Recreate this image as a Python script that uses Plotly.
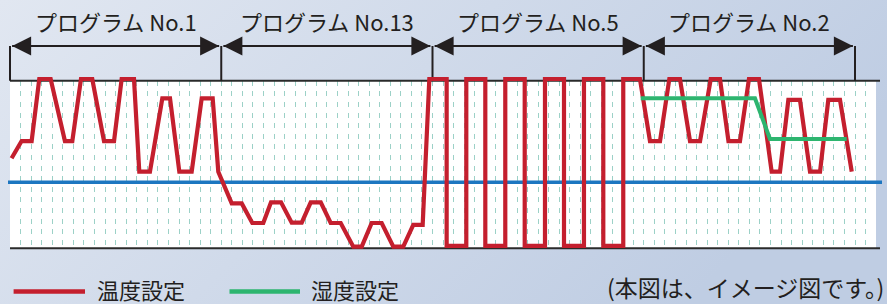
import base64
import plotly.graph_objects as go

# ---------------- data ----------------
PROGRAM_LABELS = ["プログラム No.1", "プログラム No.13", "プログラム No.5", "プログラム No.2"]
PROGRAM_BOUNDS = [0, 20, 40, 60, 80]          # time units (one grid step = 1)

TEMP_X = [0.15, 1.1, 2.05, 2.77, 3.85, 5.2, 5.9, 6.72, 7.79, 8.9, 9.85, 10.57, 11.74,
          12.24, 13.25, 14.42, 15.15, 16.03, 17.2, 18.15, 19.19, 19.72,
          20.99, 21.94, 22.94, 23.98, 24.71, 25.66, 26.67, 27.62, 28.47, 29.42, 30.36,
          31.31, 32.5, 33.3, 34.24, 35.19, 36.29, 37.23, 38.18, 39.07, 39.7,
          41.34, 41.34, 43.2, 43.2, 45.0, 45.0, 46.89, 46.89, 48.73, 48.73, 50.65, 50.65,
          52.45, 52.45, 54.34, 54.34, 56.17, 56.17, 58.06, 58.06, 59.64,
          60.59, 61.54, 62.42, 63.43, 64.38, 65.33, 66.34, 67.22, 68.02, 69.11, 69.96,
          70.91, 72.11, 72.9, 73.69, 74.79, 75.74, 76.69, 77.47, 78.58, 79.69]
TEMP_Y = [53.7, 64, 64, 101, 101, 64, 64, 101, 101, 64, 64, 101, 101,
          45.7, 45.7, 89.5, 89.5, 45.7, 45.7, 89.5, 89.5, 45.7,
          26.8, 26.8, 15.1, 15.1, 27.4, 27.4, 15.3, 15.3, 27.4, 27.4, 15.1,
          15.1, 1.0, 1.0, 15.1, 15.1, 1.0, 1.0, 14, 14, 101,
          101, 1.5, 1.5, 101, 101, 1.5, 1.5, 101, 101, 1.5, 1.5, 101,
          101, 1.5, 1.5, 101, 101, 1.5, 1.5, 101, 101,
          64, 64, 101, 101, 64, 64, 101, 101, 64, 64, 101,
          101, 45.7, 45.7, 88.5, 88.5, 45.7, 45.7, 88.5, 88.5, 45.7]
HUMID_X = [59.71, 70.53, 71.95, 79.21]
HUMID_Y = [89.5, 89.5, 65.2, 65.2]
BASE_LEVEL = 39.4
LEGEND_LABELS = ["温度設定", "湿度設定"]
NOTE_TEXT = "(本図は、イメージ図です。)"

# ---------------- geometry / style ----------------
W, H = 887, 304
PX0, PXU = 10.0, 10.5625        # pixel of t=0, pixels per time unit
PY0, PY100 = 248.3, 80.7        # pixel rows of value 0 and 100
GRID_END = 82                   # white chart area ends here (time units)
FONT = "Noto Sans CJK JP"
INK = "#231f20"
RED, GREEN, BLUE = "#c41f2e", "#2db56f", "#1c76c0"
GRID = "rgba(95,180,165,0.62)"


def ux(px):
    return (px - PX0) / PXU


def vy(py):
    return (PY0 - py) * 100.0 / (PY0 - PY100)


ARROW_Y = vy(46)
LABEL_Y = vy(21)
LINE_END = ux(880)

fig = go.Figure()

# data subplot (x2/y2) covers the full figure
fig.add_trace(go.Scatter(x=TEMP_X, y=TEMP_Y, mode="lines", xaxis="x2", yaxis="y2",
                         line=dict(color=RED, width=4.2), showlegend=False, hoverinfo="skip"))
fig.add_trace(go.Scatter(x=HUMID_X, y=HUMID_Y, mode="lines", xaxis="x2", yaxis="y2",
                         line=dict(color=GREEN, width=4), showlegend=False, hoverinfo="skip"))

# program arrows
gap = 0.2
for a, b in zip(PROGRAM_BOUNDS[:-1], PROGRAM_BOUNDS[1:]):
    fig.add_trace(go.Scatter(x=[a + gap, b - gap], y=[ARROW_Y, ARROW_Y], mode="lines+markers",
                             xaxis="x2", yaxis="y2",
                             line=dict(color=INK, width=2),
                             marker=dict(symbol=["arrow-left", "arrow-right"], size=19,
                                         color=INK, line=dict(width=0)),
                             showlegend=False, hoverinfo="skip"))

shapes = []
# white chart area
shapes.append(dict(type="rect", xref="x", yref="y", x0=0, x1=GRID_END, y0=0, y1=100,
                   fillcolor="white", line=dict(width=0), layer="below"))
# frame lines top/bottom
for yv in (0, 100):
    shapes.append(dict(type="line", xref="x2", yref="y2", x0=0, x1=LINE_END, y0=yv, y1=yv,
                       line=dict(color="#2a2a2a", width=2), layer="below"))
# program boundary ticks
for b in PROGRAM_BOUNDS:
    shapes.append(dict(type="line", xref="x2", yref="y2", x0=b, x1=b, y0=100, y1=ARROW_Y,
                       line=dict(color=INK, width=2), layer="below"))
# blue base line
shapes.append(dict(type="line", xref="x2", yref="y2", x0=ux(8), x1=ux(882),
                   y0=BASE_LEVEL, y1=BASE_LEVEL, line=dict(color=BLUE, width=3.5), layer="below"))

# legend (manual)
LEG_LINE_Y = 1 - 291.5 / H
LEG_TEXT_Y = 1 - 288.5 / H
NOTE_Y = 1 - 287 / H
for (x0, x1), col in zip([(13.6, 85), (229.5, 300)], [RED, GREEN]):
    shapes.append(dict(type="line", xref="paper", yref="paper", x0=x0 / W, x1=x1 / W,
                       y0=LEG_LINE_Y, y1=LEG_LINE_Y, line=dict(color=col, width=4.5)))

annotations = []
for lab, a, b in zip(PROGRAM_LABELS, PROGRAM_BOUNDS[:-1], PROGRAM_BOUNDS[1:]):
    annotations.append(dict(x=(a + b) / 2, y=LABEL_Y, xref="x2", yref="y2", text=lab,
                            showarrow=False, xanchor="center", yanchor="middle",
                            font=dict(family=FONT, size=22, color=INK)))
for tx, lab in zip([95, 309], LEGEND_LABELS):
    annotations.append(dict(x=tx / W, y=LEG_TEXT_Y, xref="paper", yref="paper", text=lab,
                            showarrow=False, xanchor="left", yanchor="middle",
                            font=dict(family=FONT, size=22, color=INK)))
annotations.append(dict(x=886 / W, y=NOTE_Y, xref="paper", yref="paper", text=NOTE_TEXT,
                        showarrow=False, xanchor="right", yanchor="middle",
                        font=dict(family=FONT, size=23, color=INK)))

# background gradient
svg = ('<svg xmlns="http://www.w3.org/2000/svg" width="887" height="304" preserveAspectRatio="none">'
       '<defs><linearGradient id="g" x1="0" y1="0" x2="1" y2="0.35">'
       '<stop offset="0" stop-color="#e1e7f1"/><stop offset="1" stop-color="#bfcde3"/>'
       '</linearGradient></defs><rect width="887" height="304" fill="url(#g)"/></svg>')
src = "data:image/svg+xml;base64," + base64.b64encode(svg.encode()).decode()

hidden = dict(showline=False, showticklabels=False, zeroline=False, showgrid=False, ticks="")

fig.update_layout(
    width=W, height=H, autosize=False,
    margin=dict(l=0, r=0, t=0, b=0, pad=0),
    paper_bgcolor="#d3dcea", plot_bgcolor="rgba(0,0,0,0)",
    images=[dict(source=src, xref="paper", yref="paper", x=0, y=1, sizex=1, sizey=1,
                 xanchor="left", yanchor="top", sizing="stretch", layer="below")],
    xaxis=dict(domain=[PX0 / W, (PX0 + GRID_END * PXU) / W], range=[0, GRID_END], anchor="y",
               showline=False, showticklabels=False, zeroline=False, ticks="",
               showgrid=True, dtick=1, tick0=0, gridcolor=GRID, gridwidth=1.4,
               griddash="5px,5.6px"),
    yaxis=dict(domain=[1 - PY0 / H, 1 - PY100 / H], range=[0, 100], anchor="x", **hidden),
    xaxis2=dict(domain=[0, 1], range=[ux(0), ux(W)], anchor="y2", **hidden),
    yaxis2=dict(domain=[0, 1], range=[vy(H), vy(0)], anchor="x2", **hidden),
    shapes=shapes,
    annotations=annotations,
    showlegend=False,
)

fig.write_html("out.html", config={"displayModeBar": False},
               post_script="document.body.style.margin='0';document.body.style.overflow='hidden';")
